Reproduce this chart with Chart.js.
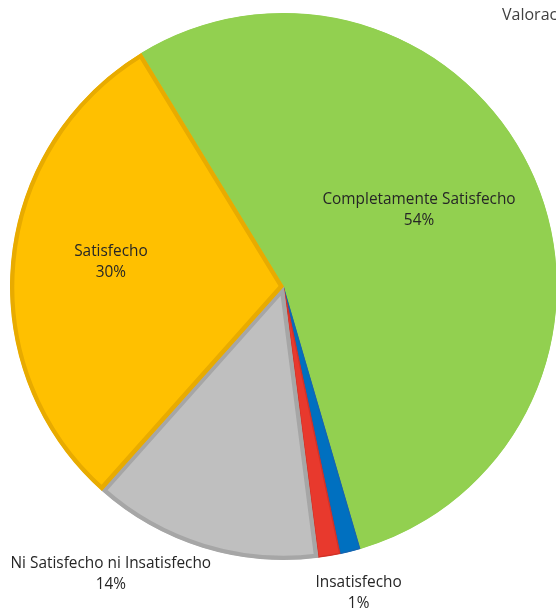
<!DOCTYPE html>
<html lang="es">
<head>
    <meta charset="UTF-8">
    <title>Valoración</title>
    <script src="https://cdn.jsdelivr.net/npm/chart.js"></script>
    <style>
        html, body {
            margin: 0;
            padding: 0;
            background: #ffffff;
            overflow: hidden;
        }
        #wrap {
            position: relative;
            width: 600px;
            height: 610px;
        }
    </style>
</head>
<body>
    <div id="wrap"><canvas id="pie" width="600" height="610"></canvas></div>
    <script>
        // Chart data
        const titleText = 'Valoración general';
        const categories = ['Completamente Satisfecho', 'Completamente Insatisfecho', 'Insatisfecho', 'Ni Satisfecho ni Insatisfecho', 'Satisfecho'];
        const values = [54.2, 1.2, 1.3, 13.6, 29.7];
        const fillColors = ['#92D050', '#0070C0', '#E8392D', '#BFBFBF', '#FFC000'];
        const edgeColors = ['#92D050', '#1565B0', '#D23227', '#A6A6A6', '#E8AB00'];
        const showLabel = [true, false, true, true, true];

        // where each data label sits: fraction of radius, angle shift (deg)
        const labelPlace = [
            { r: 0.568, shift: -5.45 },
            { r: 0.60, shift: 0 },
            { r: 1.154, shift: -4.15 },
            { r: 1.226, shift: 13.8 },
            { r: 0.637, shift: 2.75 }
        ];

        const FONT = '"Open Sans", "Noto Sans", sans-serif';

        const labelPlugin = {
            id: 'sliceLabels',
            afterDatasetsDraw(chart) {
                const ctx = chart.ctx;
                const meta = chart.getDatasetMeta(0);
                const total = values.reduce((a, b) => a + b, 0);
                ctx.save();
                ctx.font = '15.4px ' + FONT;
                ctx.fillStyle = '#262626';
                ctx.textAlign = 'center';
                ctx.textBaseline = 'middle';
                meta.data.forEach((arc, i) => {
                    if (!showLabel[i]) return;
                    const p = arc.getProps(['x', 'y', 'startAngle', 'endAngle', 'outerRadius'], true);
                    const mid = (p.startAngle + p.endAngle) / 2 + labelPlace[i].shift * Math.PI / 180;
                    const rr = p.outerRadius * labelPlace[i].r;
                    const lx = p.x + Math.cos(mid) * rr;
                    const ly = p.y + Math.sin(mid) * rr;
                    const pct = Math.round(values[i] / total * 100) + '%';
                    ctx.fillText(categories[i], lx, ly - 10.5);
                    ctx.fillText(pct, lx, ly + 10.5);
                });
                ctx.restore();
            }
        };

        // title is cut by the window edge, like in the source picture
        const titlePlugin = {
            id: 'cutTitle',
            afterDraw(chart) {
                const ctx = chart.ctx;
                ctx.save();
                ctx.font = '16px ' + FONT;
                ctx.fillStyle = '#404040';
                ctx.textAlign = 'left';
                ctx.textBaseline = 'middle';
                ctx.fillText(titleText, 502, 15);
                ctx.restore();
            }
        };

        new Chart(document.getElementById('pie').getContext('2d'), {
            type: 'pie',
            data: {
                labels: categories,
                datasets: [{
                    data: values,
                    backgroundColor: fillColors,
                    borderColor: edgeColors,
                    borderWidth: [1, 1, 1, 4, 4],
                    borderAlign: 'inner'
                }]
            },
            options: {
                responsive: false,
                animation: false,
                rotation: -31.4,
                layout: {
                    padding: { left: 10, right: 43, top: 13, bottom: 50 }
                },
                plugins: {
                    legend: { display: false },
                    tooltip: { enabled: false },
                    title: { display: false }
                }
            },
            plugins: [labelPlugin, titlePlugin]
        });
    </script>
</body>
</html>
